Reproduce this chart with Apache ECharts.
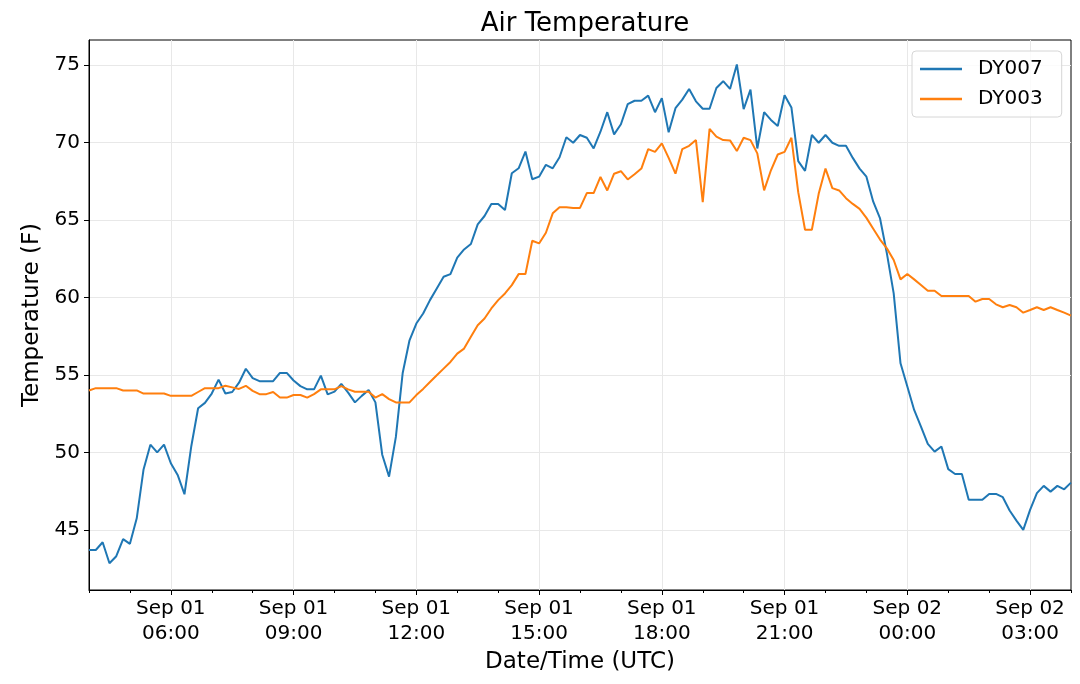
<!DOCTYPE html>
<html>
<head>
<meta charset="utf-8">
<title>Air Temperature</title>
<script src="https://cdn.jsdelivr.net/npm/echarts@6/dist/echarts.min.js"></script>
<style>
html, body { margin: 0; padding: 0; background: #fff; }
#mainArea { width: 1080px; height: 684px; }
</style>
</head>
<body>
<div id="mainArea"></div>
<script>
// readings every 10 minutes, Sep 01 04:00 UTC to Sep 02 04:00 UTC
var startMinute = 4 * 60;
var stepMinutes = 10;

var dy007 = [
	43.7, 43.7, 44.2, 42.85, 43.3, 44.4, 44.1, 45.75, 48.9, 50.5,
	50.0, 50.5, 49.3, 48.55, 47.3, 50.4, 52.85, 53.2, 53.8, 54.7,
	53.8, 53.9, 54.5, 55.4, 54.8, 54.6, 54.6, 54.6, 55.13, 55.13,
	54.64, 54.28, 54.07, 54.07, 54.96, 53.75, 53.92, 54.43, 53.86, 53.23,
	53.65, 54.03, 53.23, 49.85, 48.44, 51.0, 55.13, 57.24, 58.32, 58.97,
	59.83, 60.58, 61.34, 61.51, 62.57, 63.1, 63.45, 64.72, 65.26, 66.03,
	66.03, 65.65, 68.02, 68.34, 69.42, 67.63, 67.8, 68.56, 68.34, 69.05,
	70.34, 69.99, 70.49, 70.31, 69.62, 70.7, 71.96, 70.53, 71.18, 72.48,
	72.7, 72.7, 73.03, 71.96, 72.87, 70.66, 72.22, 72.77, 73.46, 72.66,
	72.18, 72.18, 73.52, 73.96, 73.46, 75.04, 72.16, 73.42, 69.62, 71.96,
	71.46, 71.07, 73.05, 72.27, 68.8, 68.17, 70.49, 69.99, 70.49, 69.99,
	69.79, 69.79, 69.01, 68.32, 67.8, 66.18, 65.1, 62.85, 60.27, 55.75,
	54.25, 52.74, 51.67, 50.55, 50.05, 50.38, 48.92, 48.61, 48.61, 46.94,
	46.94, 46.94, 47.32, 47.32, 47.11, 46.25, 45.6, 45.0, 46.29, 47.37,
	47.84, 47.47, 47.84, 47.62, 48.05
];

var dy003 = [
	54.0, 54.15, 54.15, 54.15, 54.15, 54.0, 54.0, 54.0, 53.8, 53.8,
	53.8, 53.8, 53.65, 53.65, 53.65, 53.65, 53.9, 54.15, 54.15, 54.15,
	54.3, 54.2, 54.1, 54.3, 53.97, 53.76, 53.76, 53.9, 53.54, 53.54,
	53.71, 53.71, 53.54, 53.76, 54.07, 54.07, 54.07, 54.28, 54.07, 53.92,
	53.92, 53.92, 53.54, 53.76, 53.44, 53.23, 53.23, 53.23, 53.7, 54.1,
	54.55, 54.98, 55.41, 55.84, 56.38, 56.7, 57.46, 58.21, 58.64, 59.29,
	59.83, 60.26, 60.8, 61.51, 61.51, 63.66, 63.49, 64.18, 65.43, 65.82,
	65.82, 65.78, 65.78, 66.74, 66.74, 67.78, 66.91, 67.99, 68.15, 67.62,
	67.95, 68.32, 69.58, 69.4, 69.95, 69.01, 67.99, 69.58, 69.79, 70.16,
	66.15, 70.88, 70.38, 70.16, 70.14, 69.45, 70.31, 70.16, 69.3, 66.91,
	68.21, 69.23, 69.4, 70.31, 66.8, 64.37, 64.37, 66.69, 68.32, 67.06,
	66.91, 66.41, 66.04, 65.72, 65.14, 64.44, 63.74, 63.17, 62.42, 61.17,
	61.52, 61.17, 60.81, 60.44, 60.44, 60.1, 60.1, 60.1, 60.1, 60.1,
	59.73, 59.9, 59.9, 59.56, 59.37, 59.52, 59.37, 59.02, 59.19, 59.37,
	59.19, 59.37, 59.19, 59.02, 58.83
];

var yTicks = [45, 50, 55, 60, 65, 70, 75];

function pad2(n) {
	return (n < 10 ? '0' : '') + n;
}

// category labels like "Sep 01\n06:00"
function timeLabels() {
	var d = [];
	for (var i = 0; i < dy007.length; i++) {
		var m = startMinute + i * stepMinutes;
		var day = 1 + Math.floor(m / 1440);
		m = m % 1440;
		d.push('Sep ' + pad2(day) + '\n' + pad2(Math.floor(m / 60)) + ':' + pad2(m % 60));
	}
	return d;
}

var times = timeLabels();

// major tick every 3 hours starting 06:00, minor every hour
function isMajor(index) {
	return index % 18 === 12;
}
function isMinor(index) {
	return index % 6 === 0;
}

var font = 'DejaVu Sans';

var option = {
	animation: false,
	backgroundColor: '#fff',
	title: {
		text: 'Air Temperature',
		left: 580,
		top: 6,
		textAlign: 'center',
		textStyle: { fontFamily: font, fontSize: 26, fontWeight: 'normal', color: '#000' }
	},
	legend: {
		orient: 'vertical',
		left: 912,
		top: 51,
		padding: [8, 19, 8, 8],
		itemGap: 10,
		itemWidth: 42,
		itemHeight: 2.5,
		icon: 'rect',
		borderColor: '#d6d6d6',
		borderWidth: 1,
		borderRadius: 4,
		backgroundColor: 'rgba(255,255,255,0.8)',
		textStyle: { fontFamily: font, fontSize: 20, color: '#000', padding: [0, 0, 0, 11] },
		data: ['DY007', 'DY003']
	},
	grid: {
		left: 89,
		right: 9,
		top: 40,
		bottom: 94,
		show: true,
		borderColor: '#000',
		borderWidth: 1,
		backgroundColor: 'transparent'
	},
	xAxis: [
		{
			type: 'category',
			data: times,
			boundaryGap: false,
			name: 'Date/Time (UTC)',
			nameLocation: 'middle',
			nameGap: 53,
			nameTextStyle: { fontFamily: font, fontSize: 23, color: '#000' },
			axisLine: { lineStyle: { color: '#000', width: 1 } },
			axisTick: { interval: isMajor, length: 5, lineStyle: { color: '#000' } },
			axisLabel: {
				interval: isMajor,
				margin: 6,
				fontFamily: font,
				fontSize: 20,
				lineHeight: 25,
				color: '#000'
			},
			splitLine: { show: true, interval: isMajor, lineStyle: { color: '#e8e8e8', width: 1 } }
		},
		{
			type: 'category',
			data: times,
			boundaryGap: false,
			position: 'bottom',
			axisLine: { show: false },
			axisTick: { interval: isMinor, length: 3, lineStyle: { color: '#000' } },
			axisLabel: { show: false },
			splitLine: { show: false }
		}
	],
	yAxis: {
		type: 'value',
		min: 41.12,
		max: 76.62,
		name: 'Temperature (F)',
		nameLocation: 'middle',
		nameGap: 37,
		nameTextStyle: { fontFamily: font, fontSize: 23, color: '#000' },
		axisLine: { show: true, lineStyle: { color: '#000', width: 1 } },
		axisTick: { show: true, length: 5, customValues: yTicks, lineStyle: { color: '#000' } },
		axisLabel: { customValues: yTicks, margin: 9, fontFamily: font, fontSize: 20, color: '#000' },
		splitLine: { show: true, lineStyle: { color: '#e8e8e8', width: 1 } }
	},
	series: [
		{
			name: 'DY007',
			type: 'line',
			data: dy007,
			symbol: 'none',
			color: '#1f77b4',
			lineStyle: { width: 2 }
		},
		{
			name: 'DY003',
			type: 'line',
			data: dy003,
			symbol: 'none',
			color: '#ff7f0e',
			lineStyle: { width: 2 }
		}
	]
};

var myChart = echarts.init(document.getElementById('mainArea'));
myChart.setOption(option);
</script>
</body>
</html>
